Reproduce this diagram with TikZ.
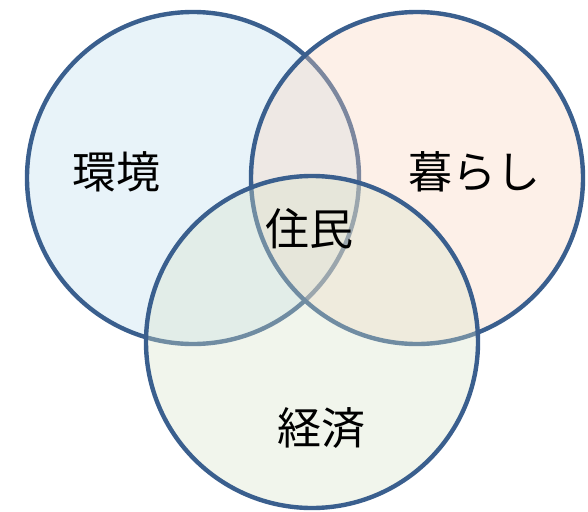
\documentclass[tikz,border=0pt]{standalone}
\usepackage{fontspec}
\newfontfamily\cjk{Noto Sans CJK JP}
\definecolor{edge}{RGB}{58,95,142}
\definecolor{fillA}{RGB}{189,221,238}
\definecolor{fillB}{RGB}{249,212,189}
\definecolor{fillC}{RGB}{215,226,201}
\begin{document}
\begin{tikzpicture}[x=1pt,y=-1pt,
  venn/.style={circle,minimum size=332pt,inner sep=0pt,draw=edge,line width=4.4pt,fill opacity=0.35},
  lbl/.style={font=\cjk\fontsize{44}{48}\selectfont,text=black,inner sep=0pt}]
\useasboundingbox (0,0) rectangle (588,511);
\node[venn,fill=fillA] (env) at (193,178) {};
\node[venn,fill=fillB] (life) at (417,178) {};
\node[venn,fill=fillC] (eco) at (312,342) {};
\node[lbl] (tenv) at (116,172) {環境};
\node[lbl] (tlife) at (474,172) {暮らし};
\node[lbl] (tres) at (309,229) {住民};
\node[lbl] (teco) at (321,428) {経済};
\end{tikzpicture}
\end{document}
